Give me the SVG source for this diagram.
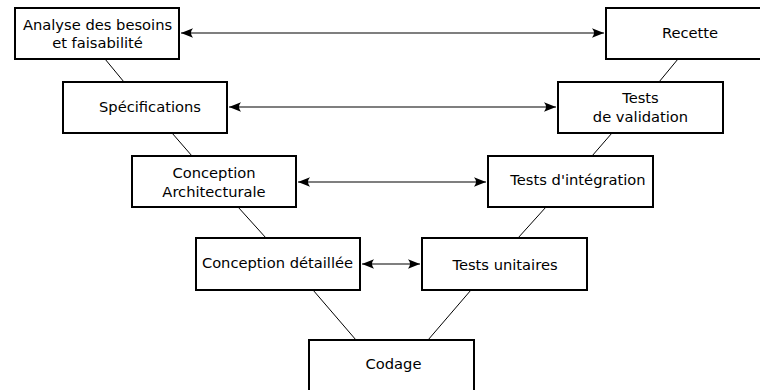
<svg xmlns="http://www.w3.org/2000/svg" width="760" height="390" viewBox="0 0 760 390">
<style>
.box{fill:#fff;stroke:#000;stroke-width:2}
.t{font-family:"DejaVu Sans",sans-serif;font-size:14.7px;fill:#000;text-anchor:middle}
.diag{stroke:#000;stroke-width:1;fill:none}
.arr{stroke:#000;stroke-width:1.2;fill:none;marker-start:url(#ah);marker-end:url(#ah)}
</style>
<defs>
<marker id="ah" viewBox="-13 -6 14 12" refX="0" refY="0" markerWidth="14" markerHeight="12" markerUnits="userSpaceOnUse" orient="auto-start-reverse">
<path d="M0,0 L-12,-4.8 Q-8,0 -12,4.8 Z" fill="#000"/>
</marker>
</defs>
<g id="connectors">
<line class="diag" x1="105" y1="59" x2="124" y2="82"/>
<line class="diag" x1="172" y1="133" x2="192" y2="156"/>
<line class="diag" x1="238" y1="207" x2="266" y2="238"/>
<line class="diag" x1="313" y1="290" x2="356" y2="340"/>
<line class="diag" x1="428" y1="340" x2="471" y2="290"/>
<line class="diag" x1="518" y1="238" x2="546" y2="207"/>
<line class="diag" x1="592" y1="156" x2="612" y2="133"/>
<line class="diag" x1="659" y1="82" x2="678" y2="59"/>
<line class="arr" x1="181" y1="33" x2="604" y2="33"/>
<line class="arr" x1="229" y1="107" x2="556" y2="107"/>
<line class="arr" x1="298" y1="182" x2="486" y2="182"/>
<line class="arr" x1="362" y1="264" x2="420" y2="264"/>
</g>
<g id="analyse">
<rect class="box" x="15" y="8" width="164" height="51"/>
<text class="t" x="97.5" y="30">Analyse des besoins</text>
<text class="t" x="97.5" y="48">et faisabilité</text>
</g>
<g id="specifications">
<rect class="box" x="63" y="82" width="164" height="51"/>
<text class="t" x="150" y="112">Spécifications</text>
</g>
<g id="conception-architecturale">
<rect class="box" x="132" y="156" width="164" height="51"/>
<text class="t" x="214" y="178">Conception</text>
<text class="t" x="214" y="197">Architecturale</text>
</g>
<g id="conception-detaillee">
<rect class="box" x="196" y="238" width="164" height="52"/>
<text class="t" x="277.5" y="268">Conception détaillée</text>
</g>
<g id="codage">
<rect class="box" x="309" y="340" width="165" height="51"/>
<text class="t" x="393.5" y="369">Codage</text>
</g>
<g id="tests-unitaires">
<rect class="box" x="422" y="238" width="165" height="52"/>
<text class="t" x="505" y="270">Tests unitaires</text>
</g>
<g id="tests-integration">
<rect class="box" x="488" y="156" width="165" height="51"/>
<text class="t" x="578" y="185">Tests d'intégration</text>
</g>
<g id="tests-validation">
<rect class="box" x="558" y="82" width="165" height="51"/>
<text class="t" x="640.5" y="103">Tests</text>
<text class="t" x="640.5" y="122">de validation</text>
</g>
<g id="recette">
<rect class="box" x="606" y="8" width="165" height="51"/>
<text class="t" x="690" y="38">Recette</text>
</g>
</svg>
